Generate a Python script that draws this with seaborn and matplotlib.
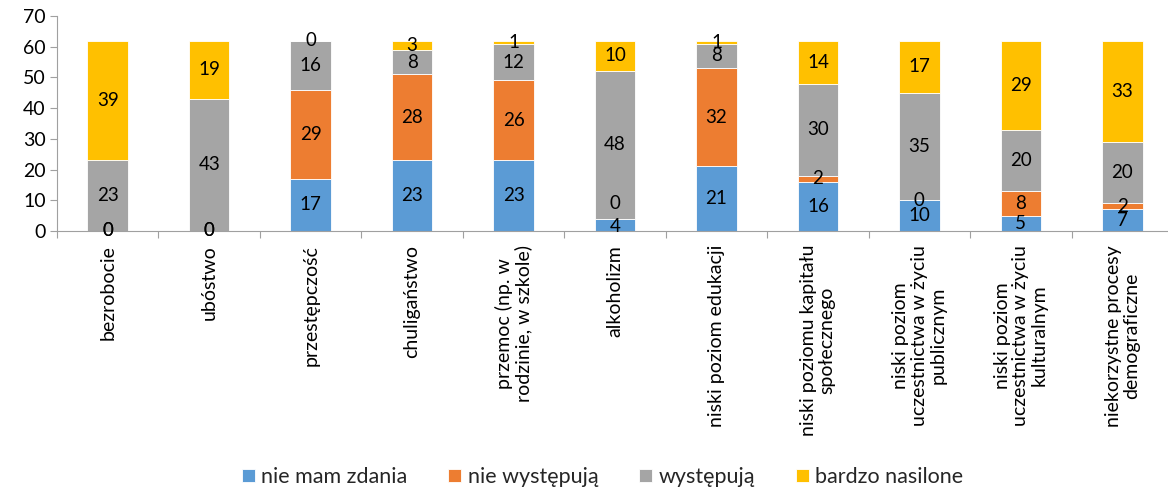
import matplotlib
matplotlib.use("Agg")
import matplotlib.pyplot as plt
import seaborn as sns
import numpy as np

categories = [
    "bezrobocie",
    "ubóstwo",
    "przestępczość",
    "chuligaństwo",
    "przemoc (np. w\nrodzinie, w szkole)",
    "alkoholizm",
    "niski poziom edukacji",
    "niski poziomu kapitału\nspołecznego",
    "niski poziom\nuczestnictwa w życiu\npublicznym",
    "niski poziom\nuczestnictwa w życiu\nkulturalnym",
    "niekorzystne procesy\ndemograficzne",
]

series_names = ["nie mam zdania", "nie występują", "występują", "bardzo nasilone"]
nie_mam_zdania = [0, 0, 17, 23, 23, 4, 21, 16, 10, 5, 7]
nie_wystepuja = [0, 0, 29, 28, 26, 0, 32, 2, 0, 8, 2]
wystepuja = [23, 43, 16, 8, 12, 48, 8, 30, 35, 20, 20]
bardzo_nasilone = [39, 19, 0, 3, 1, 10, 1, 14, 17, 29, 33]

colors = ["#5B9BD5", "#ED7D31", "#A5A5A5", "#FFC000"]
y_ticks = [0, 10, 20, 30, 40, 50, 60, 70]

sns.set_theme(style="white")
plt.rcParams["font.family"] = ["Lato", "DejaVu Sans"]

fig = plt.figure(figsize=(11.68, 4.9), dpi=100)
ax = fig.add_axes([57 / 1168, 1 - 231 / 490, 1116 / 1168, 215 / 490])

series = [nie_mam_zdania, nie_wystepuja, wystepuja, bardzo_nasilone]
bottom = np.zeros(len(categories))
label_fs = 13.5
for name, vals, col in zip(series_names, series, colors):
    vals = np.asarray(vals, dtype=float)
    sns.barplot(x=categories, y=vals, bottom=bottom, color=col, width=0.4,
                errorbar=None, edgecolor="white", linewidth=0.6,
                label=name, ax=ax, saturation=1)
    for i, v in enumerate(vals):
        y = bottom[i] + v / 2
        # keep a zero label clear of the small label underneath it
        if v == 0 and bottom[i] > 0 and bottom[i] < 6:
            y = bottom[i] + 5
        if v > 0 and v < 5 and bottom[i] == 0:
            y = 1.6
        ax.text(i, y, f"{int(v)}", ha="center", va="center",
                fontsize=label_fs, color="black")
    bottom = bottom + vals

ax.set_xlim(-0.5, len(categories) - 0.5)
ax.set_ylim(0, 70)
ax.set_yticks(y_ticks)
ax.set_yticklabels([str(t) for t in y_ticks], fontsize=14, color="black")

ax.set_xticks(range(len(categories)))
ax.set_xticklabels(categories, rotation=90, ha="center", va="top",
                   multialignment="center", fontsize=14, color="black",
                   linespacing=1.1)
ax.set_xticks(np.arange(-0.5, len(categories), 1.0), minor=True)
ax.tick_params(axis="x", which="major", length=0, pad=10)
ax.tick_params(axis="x", which="minor", length=5, width=0.8, color="#A0A0A0",
               direction="out", bottom=True)
ax.tick_params(axis="y", which="major", length=5, width=0.8, color="#A0A0A0",
               direction="out", left=True, pad=3)

for side in ["top", "right"]:
    ax.spines[side].set_visible(False)
for side in ["left", "bottom"]:
    ax.spines[side].set_color("#A0A0A0")
    ax.spines[side].set_linewidth(0.8)
ax.set_xlabel("")
ax.set_ylabel("")
ax.grid(False)

handles, labels = ax.get_legend_handles_labels()
if ax.get_legend() is not None:
    ax.get_legend().remove()
fig.legend(handles, labels, loc="center", bbox_to_anchor=(0.516, 1 - 477 / 490),
           ncol=4, frameon=False, fontsize=15.5, handlelength=0.6,
           handleheight=0.6, handletextpad=0.3, columnspacing=1.9)

fig.savefig("out.png", dpi=100)
